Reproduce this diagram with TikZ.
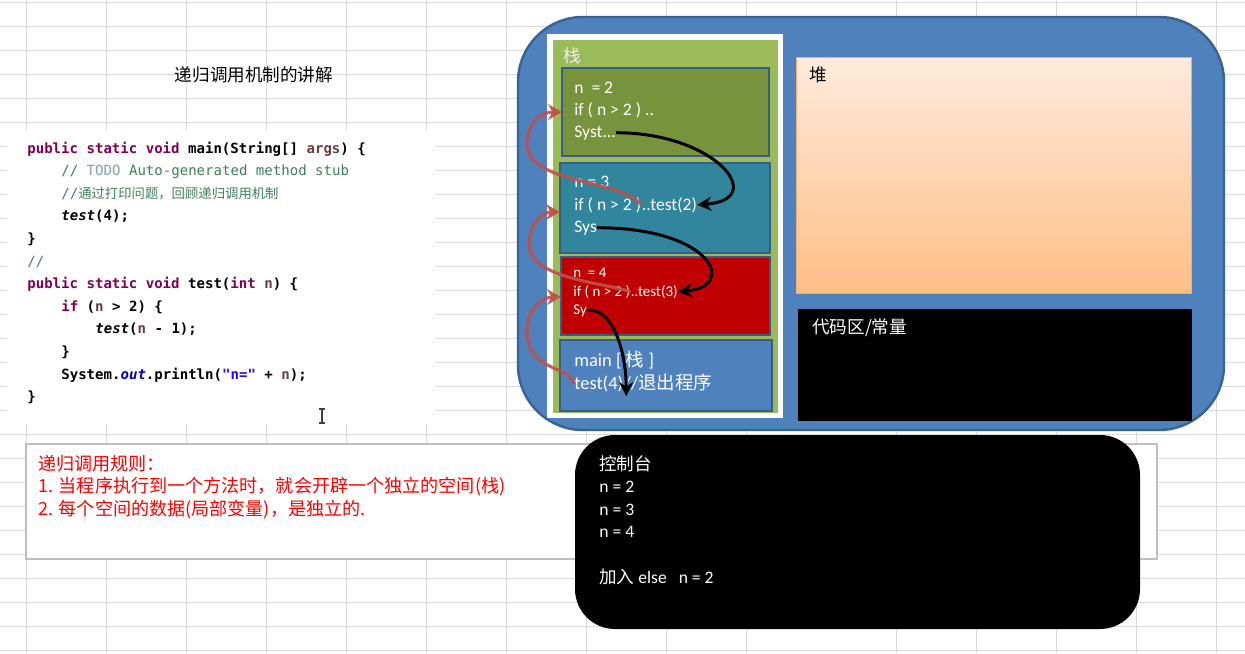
\documentclass[tikz,border=0pt]{standalone}
\usepackage{fontspec}
\setmainfont{Carlito}
\setmonofont{DejaVu Sans Mono}
\newfontfamily\cjk{Noto Sans CJK SC}
\usetikzlibrary{arrows.meta}

\definecolor{gridgray}{HTML}{D9D9D9}
\definecolor{memblue}{HTML}{4F81BD}
\definecolor{memedge}{HTML}{3A6395}
\definecolor{stackgreen}{HTML}{9BBB59}
\definecolor{olivebox}{HTML}{77933C}
\definecolor{tealbox}{HTML}{31859C}
\definecolor{redbox}{HTML}{C00000}
\definecolor{frameedge}{HTML}{385D8A}
\definecolor{retred}{HTML}{C0504D}
\definecolor{heaptop}{HTML}{FFEBDC}
\definecolor{heapbot}{HTML}{FFBE86}
\definecolor{heapedge}{HTML}{F79646}
\definecolor{kw}{HTML}{7F0055}
\definecolor{cmt}{HTML}{3F7F5F}
\definecolor{todo}{HTML}{7F9FBF}
\definecolor{strblue}{HTML}{2A00FF}
\definecolor{fieldblue}{HTML}{0000C0}
\definecolor{varbrown}{HTML}{6A3E3E}
\definecolor{rulegray}{HTML}{BFBFBF}

\tikzset{
  gridline/.style={gridgray, line width=0.5pt},
  code/.style={anchor=base west, inner sep=0pt, font=\ttfamily\fontsize{8pt}{10pt}\selectfont},
  codebf/.style={code, font=\ttfamily\bfseries\fontsize{8pt}{10pt}\selectfont},
  frame/.style={draw=frameedge, line width=1.5pt},
  stacktext/.style={anchor=base west, inner sep=0pt, text=white, font=\fontsize{10pt}{12pt}\selectfont},
  smalltext/.style={stacktext, font=\fontsize{8.5pt}{10pt}\selectfont},
  maintext/.style={stacktext, font=\fontsize{10.5pt}{12pt}\selectfont},
  label/.style={anchor=west, inner sep=0pt, font=\cjk\fontsize{10pt}{12pt}\selectfont},
  consoletext/.style={anchor=west, inner sep=0pt, text=white, font=\fontsize{10pt}{12pt}\selectfont},
  ruletext/.style={anchor=west, inner sep=0pt, text=red, font=\cjk\fontsize{10.3pt}{12pt}\selectfont},
  call/.style={line width=1.7pt, -{Stealth[length=8pt,width=8pt]}},
  ret/.style={retred, line width=1.8pt, opacity=0.9, -{Stealth[length=8pt,width=9pt]}},
}

\begin{document}
\begin{tikzpicture}[x=0.02cm, y=-0.02cm]
\useasboundingbox (0,0) rectangle (1245,653);
\fill[white] (0,0) rectangle (1245,653);

% sheet grid
\foreach \k in {0,...,27}
  \draw[gridline] (0,{2.7+24*\k}) -- (1245,{2.7+24*\k});
\foreach \x in {26.7,106.7,...,746.7}
  \draw[gridline] (\x,0) -- (\x,653);
\foreach \x in {896.7,976.7,...,1216.7}
  \draw[gridline] (\x,0) -- (\x,653);

% title and source code
\node[font=\cjk\fontsize{10pt}{12pt}\selectfont] (title) at (254,75) {递归调用机制的讲解};
\fill[white] (7,130) rectangle (435,424);
\node[codebf] (c1) at (27,153) {\textcolor{kw}{public static void} main(String[] \textcolor{varbrown}{args}) \{};
\node[code] (c2) at (61,175.6) {\textcolor{cmt}{//}\ \textcolor{todo}{TODO}\ \textcolor{cmt}{Auto-generated method stub}};
\node[code] (c3) at (61,198.2) {\textcolor{cmt}{//{\cjk\fontsize{7.6pt}{9pt}\selectfont 通过打印问题，回顾递归调用机制}}};
\node[codebf] (c4) at (61,220.8) {\textit{test}(4);};
\node[codebf] (c5) at (27,243.4) {\}};
\node[code] (c6) at (27,266) {\textcolor{cmt}{//}};
\node[codebf] (c7) at (27,288.6) {\textcolor{kw}{public static void} test(\textcolor{kw}{int} \textcolor{varbrown}{n}) \{};
\node[codebf] (c8) at (61,311.2) {\textcolor{kw}{if} (\textcolor{varbrown}{n} > 2) \{};
\node[codebf] (c9) at (95,333.8) {\textit{test}(\textcolor{varbrown}{n} - 1);};
\node[codebf] (c10) at (61,356.4) {\}};
\node[codebf] (c11) at (61,379) {System.\textcolor{fieldblue}{\textit{out}}.println(\textcolor{strblue}{"n="} + \textcolor{varbrown}{n});};
\node[codebf] (c12) at (27,401.6) {\}};
\draw[black!75, line width=0.6pt] (322,409) -- (322,423) (319,409) -- (325,409) (319,423) -- (325,423);

% memory
\draw[fill=memblue, draw=memedge, line width=1.4pt, rounded corners=1.3cm] (518,17) rectangle (1224,430);
\fill[white] (547,34) rectangle (783,418);
\fill[stackgreen] (553,40) rectangle (778,413);
\node[label, text=white!93!black] (stack) at (563,56) {栈};

\draw[frame, fill=olivebox] (562,68) rectangle (769,156);
\draw[frame, fill=tealbox] (560,163) rectangle (770,253);
\draw[frame, fill=redbox] (561,257) rectangle (770,335);
\draw[frame, fill=memblue] (560,340) rectangle (772,411);

\node[stacktext] (f1n) at (574,93) {n\ \ = 2};
\node[stacktext] (f1if) at (574,115) {if ( n > 2 ) ..};
\node[stacktext] (f1sys) at (574,137) {Syst...};
\node[stacktext] (f2n) at (574,187) {n = 3};
\node[stacktext] (f2if) at (574,210) {if ( n > 2 )\ };
\node[stacktext, anchor=base west] (f2call) at (f2if.base east) {..test(2)};
\node[stacktext] (f2sys) at (574,232) {Sys};
\node[smalltext] (f3n) at (573,277) {n\ \ = 4};
\node[smalltext] (f3if) at (573,296) {if ( n > 2 )\ };
\node[smalltext, anchor=base west] (f3call) at (f3if.base east) {..test(3)};
\node[smalltext] (f3sys) at (573,314) {Sy};
\node[maintext] (m1) at (574,366) {main [ {\cjk 栈} ]};
\node[maintext] (m2) at (574,389) {test(4)\ };
\node[maintext, anchor=base west] (m2exit) at (m2.base east) {//{\cjk 退出程序}};

\coordinate (f1in) at (562,112);
\coordinate (f2in) at (560,212);
\coordinate (f3in) at (561,297);

% calls
\draw[call] (f1sys.east) .. controls +(100,0) and +(72,-5) .. (f2call.east);
\draw[call] (f2sys.east) .. controls +(115,0) and +(60,-5) .. (f3call.east);
\draw[call] (f3sys.east) .. controls +(25,-4) and +(0,-45) .. ([xshift=1.5pt, yshift=-3pt]m2exit.south west);

% returns
\draw[ret] (f2call.west) .. controls (620,178) and (522,185) .. (527,140) .. controls (530,118) and (545,112) .. (f1in);
\draw[ret] (f3call.west) .. controls (600,282) and (526,278) .. (529,242) .. controls (531,220) and (545,212) .. (f2in);
\draw[ret] (m2.west) .. controls (570,365) and (526,372) .. (527,330) .. controls (528,305) and (545,297) .. (f3in);

% heap and code area
\draw[draw=heapedge!80, line width=0.5pt, top color=heaptop, bottom color=heapbot] (796,57) rectangle (1191,293);
\node[label] (heap) at (809,75) {堆};
\fill[black] (798,309) rectangle (1192,421);
\node[label, text=white] (codearea) at (812,328) {代码区/常量};

% rules and console
\draw[draw=rulegray, fill=white, line width=0.8pt] (26,444) rectangle (1157,559);
\node[ruletext] (r0) at (38,464) {递归调用规则：};
\node[ruletext] (r1) at (38,487) {1. 当程序执行到一个方法时，就会开辟一个独立的空间(栈)};
\node[ruletext] (r2) at (38,510) {2. 每个空间的数据(局部变量)，是独立的.};

\fill[black, rounded corners=0.8cm] (575,435) rectangle (1140,629);
\node[consoletext, font=\cjk\fontsize{10pt}{12pt}\selectfont] (con0) at (599,464) {控制台};
\node[consoletext] (con1) at (599,487) {n = 2};
\node[consoletext] (con2) at (599,510) {n = 3};
\node[consoletext] (con3) at (599,532) {n = 4};
\node[consoletext] (con4) at (599,577) {{\cjk 加入} else\ \ \ n = 2};
\end{tikzpicture}
\end{document}
